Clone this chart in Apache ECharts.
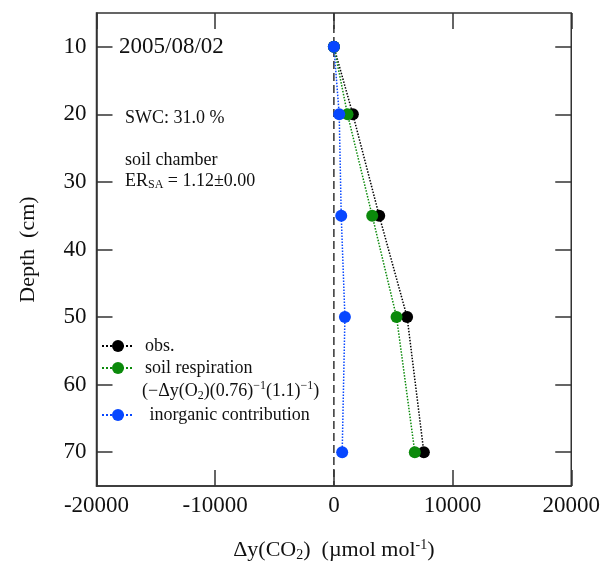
<!DOCTYPE html>
<html>
<head>
<meta charset="utf-8">
<script src="https://cdn.jsdelivr.net/npm/echarts@6/dist/echarts.min.js"></script>
<style>
  html, body { margin: 0; padding: 0; background: #ffffff; }
  #chart { width: 603px; height: 567px; }
</style>
</head>
<body>
<div id="chart"></div>
<script>
// Sampling depths (cm) and CO2 differences (µmol mol-1) at each depth
const depths = [10, 20, 35, 50, 70];
const obs = [0, 1600, 3820, 6170, 7580];
const soilResp = [0, 1150, 3230, 5280, 6820];
const inorganic = [0, 450, 620, 930, 700];

// Axis ticks
const depthTicks = [10, 20, 30, 40, 50, 60, 70];
const xRange = [-20000, 20000];
const xStep = 10000;
const depthRange = [5, 75];

// Reference line at zero difference
const zeroLine = [[0, depthRange[0]], [0, depthRange[1]]];

const FONT = '"Liberation Serif", "Times New Roman", serif';
const INK = '#111111';
const FRAME = '#333333';

const pairs = (vals) => depths.map((d, i) => [vals[i], d]);

const chart = echarts.init(document.getElementById('chart'), null, { renderer: 'canvas' });

const tickStyle = { inside: true, length: 16, lineStyle: { color: FRAME, width: 1.5 } };

function profileSeries(name, vals, color) {
  return {
    name: name,
    type: 'line',
    data: pairs(vals),
    symbol: 'circle',
    symbolSize: 12,
    itemStyle: { color: color },
    lineStyle: { color: color, type: 'dotted', width: 1.5 },
    animation: false
  };
}

const option = {
  backgroundColor: '#ffffff',
  animation: false,
  grid: {
    left: 96.5, right: 31, top: 13, bottom: 78,
    show: true, borderColor: FRAME, borderWidth: 1.5, backgroundColor: 'transparent'
  },
  xAxis: [
    {
      type: 'value', position: 'bottom',
      min: xRange[0], max: xRange[1], interval: xStep,
      axisLine: { show: true, onZero: false, lineStyle: { color: FRAME, width: 1.5 } },
      axisTick: tickStyle,
      splitLine: { show: false },
      axisLabel: { margin: 8, fontFamily: FONT, fontSize: 23, color: INK, formatter: (v) => String(v) },
      name: '{a|Δy(CO}{s|2}{a|)  (µmol mol}{p|-1}{a|)}',
      nameLocation: 'middle',
      nameGap: 52,
      nameTextStyle: {
        color: INK, fontFamily: FONT, fontSize: 22,
        rich: {
          a: { fontFamily: FONT, fontSize: 22, color: INK, lineHeight: 24 },
          s: { fontFamily: FONT, fontSize: 14, color: INK, lineHeight: 14, verticalAlign: 'bottom' },
          p: { fontFamily: FONT, fontSize: 14, color: INK, lineHeight: 14, verticalAlign: 'top' }
        }
      }
    },
    {
      type: 'value', position: 'top',
      min: xRange[0], max: xRange[1], interval: xStep,
      axisLine: { show: false, onZero: false },
      axisTick: tickStyle,
      axisLabel: { show: false },
      splitLine: { show: false }
    }
  ],
  yAxis: [
    {
      type: 'value', position: 'left', inverse: true,
      min: depthRange[0], max: depthRange[1],
      axisLine: { show: true, onZero: false, lineStyle: { color: FRAME, width: 1.5 } },
      axisTick: Object.assign({ customValues: depthTicks }, tickStyle),
      axisLabel: { customValues: depthTicks, margin: 10, fontFamily: FONT, fontSize: 23, color: INK },
      splitLine: { show: false },
      name: 'Depth  (cm)',
      nameLocation: 'middle',
      nameRotate: 90,
      nameGap: 57,
      nameTextStyle: { color: INK, fontFamily: FONT, fontSize: 22 }
    },
    {
      type: 'value', position: 'right', inverse: true,
      min: depthRange[0], max: depthRange[1],
      axisLine: { show: false, onZero: false },
      axisTick: Object.assign({ customValues: depthTicks }, tickStyle),
      axisLabel: { show: false },
      splitLine: { show: false }
    }
  ],
  legend: [
    {
      data: ['obs.', 'soil respiration'],
      orient: 'vertical', left: 101, top: 337, padding: 0,
      itemWidth: 32, itemHeight: 15, itemGap: 4,
      selectedMode: false,
      textStyle: { fontFamily: FONT, fontSize: 18, lineHeight: 18, color: INK, padding: [0, 0, 0, 6] }
    },
    {
      data: ['inorganic contribution'],
      orient: 'vertical', left: 101, top: 406, padding: 0,
      itemWidth: 32, itemHeight: 15,
      selectedMode: false,
      formatter: (n) => ' ' + n,
      textStyle: { fontFamily: FONT, fontSize: 18, lineHeight: 18, color: INK, padding: [0, 0, 0, 6] }
    }
  ],
  graphic: [
    {
      type: 'text', x: 119, y: 47,
      style: { text: '2005/08/02', fontFamily: FONT, fontSize: 23, fill: INK, verticalAlign: 'middle' }
    },
    {
      type: 'text', x: 125, y: 118,
      style: { text: 'SWC: 31.0 %', fontFamily: FONT, fontSize: 18, fill: INK, verticalAlign: 'middle' }
    },
    {
      type: 'text', x: 125, y: 160,
      style: { text: 'soil chamber', fontFamily: FONT, fontSize: 18, fill: INK, verticalAlign: 'middle' }
    },
    {
      type: 'text', x: 125, y: 181,
      style: {
        text: '{a|ER}{s|SA}{a| = 1.12±0.00}',
        verticalAlign: 'middle', fill: INK,
        rich: {
          a: { fontFamily: FONT, fontSize: 18, fill: INK, lineHeight: 20 },
          s: { fontFamily: FONT, fontSize: 12, fill: INK, lineHeight: 12, verticalAlign: 'bottom' }
        }
      }
    },
    {
      type: 'text', x: 142, y: 391,
      style: {
        text: '{a|(−Δy(O}{s|2}{a|)(0.76)}{p|−1}{a|(1.1)}{p|−1}{a|)}',
        verticalAlign: 'middle', fill: INK,
        rich: {
          a: { fontFamily: FONT, fontSize: 18, fill: INK, lineHeight: 22 },
          s: { fontFamily: FONT, fontSize: 12, fill: INK, lineHeight: 12, verticalAlign: 'bottom' },
          p: { fontFamily: FONT, fontSize: 12, fill: INK, lineHeight: 12, verticalAlign: 'top' }
        }
      }
    }
  ],
  series: [
    {
      name: 'zero',
      type: 'line',
      data: zeroLine,
      symbol: 'none',
      silent: true,
      lineStyle: { color: FRAME, width: 1.5, type: [8, 4] },
      z: 1,
      animation: false
    },
    profileSeries('obs.', obs, '#000000'),
    profileSeries('soil respiration', soilResp, '#0b8a0b'),
    profileSeries('inorganic contribution', inorganic, '#0747ff')
  ]
};

chart.setOption(option);
</script>
</body>
</html>
